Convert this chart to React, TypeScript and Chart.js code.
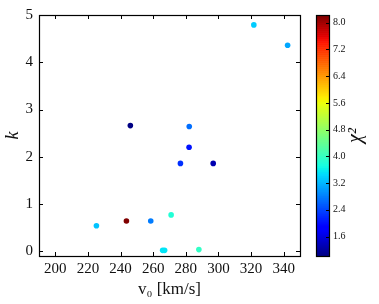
import React, { useEffect, useRef } from 'react';
import { Chart, registerables } from 'chart.js';
Chart.register(...registerables);

const velocity = [246, 282.1, 282, 321.7, 342.4, 276.7, 296.8, 225.2, 243.6, 258.5, 271, 265.8, 267, 288];
const kValues = [2.66, 2.64, 2.2, 4.79, 4.36, 1.86, 1.86, 0.54, 0.64, 0.64, 0.77, 0.02, 0.02, 0.035];
const chi2Values = [1.05, 2.7, 2.05, 3.36, 3.1, 2.25, 1.32, 3.3, 8.23, 2.8, 3.83, 3.54, 3.54, 3.97];
const xTicks = [200, 220, 240, 260, 280, 300, 320, 340];
const yTicks = [0, 1, 2, 3, 4, 5];
const cbTicks = [1.6, 2.4, 3.2, 4.0, 4.8, 5.6, 6.4, 7.2, 8.0];
const cbMin = 1.02;
const cbMax = 8.23;

const SERIF = '"Liberation Serif", "DejaVu Serif", serif';

const R: number[][] = [[0, 0], [0.35, 0], [0.66, 1], [0.89, 1], [1, 0.5]];
const G: number[][] = [[0, 0], [0.125, 0], [0.375, 1], [0.64, 1], [0.91, 0], [1, 0]];
const B: number[][] = [[0, 0.5], [0.11, 1], [0.34, 1], [0.65, 0], [1, 0]];

function seg(p: number[][], t: number) {
  for (let i = 1; i < p.length; i++) {
    if (t <= p[i][0]) {
      const [x0, y0] = p[i - 1];
      const [x1, y1] = p[i];
      return y0 + ((y1 - y0) * (t - x0)) / (x1 - x0);
    }
  }
  return p[p.length - 1][1];
}

function jet(v: number) {
  let t = (v - cbMin) / (cbMax - cbMin);
  t = Math.max(0, Math.min(1, t));
  const r = Math.round(seg(R, t) * 255);
  const g = Math.round(seg(G, t) * 255);
  const b = Math.round(seg(B, t) * 255);
  return `rgb(${r},${g},${b})`;
}

const overlay = {
  id: 'overlay',
  afterDraw(chart: any) {
    const ctx = chart.ctx as CanvasRenderingContext2D;
    const { left, right, top, bottom } = chart.chartArea;
    const xs = chart.scales.x;
    const ys = chart.scales.y;
    ctx.save();
    ctx.strokeStyle = '#000';
    ctx.lineWidth = 1;
    ctx.beginPath();
    xTicks.forEach((v) => {
      const px = Math.round(xs.getPixelForValue(v)) + 0.5;
      ctx.moveTo(px, bottom);
      ctx.lineTo(px, bottom - 4);
      ctx.moveTo(px, top);
      ctx.lineTo(px, top + 4);
    });
    yTicks.forEach((v) => {
      const py = Math.round(ys.getPixelForValue(v)) + 0.5;
      ctx.moveTo(left, py);
      ctx.lineTo(left + 4, py);
      ctx.moveTo(right, py);
      ctx.lineTo(right - 4, py);
    });
    ctx.stroke();
    ctx.lineWidth = 1.2;
    ctx.strokeRect(Math.round(left) + 0.5, Math.round(top) + 0.5, Math.round(right - left), Math.round(bottom - top));

    // colorbar
    const cbL = Math.round(right) + 16;
    const cbW = 13;
    const h = bottom - top;
    const N = 120;
    for (let i = 0; i < N; i++) {
      const v = cbMin + ((i + 0.5) / N) * (cbMax - cbMin);
      const y0 = bottom - (i / N) * h;
      const y1 = bottom - ((i + 1) / N) * h;
      ctx.fillStyle = jet(v);
      ctx.fillRect(cbL, y1, cbW, y0 - y1 + 0.6);
    }
    ctx.lineWidth = 1.2;
    ctx.strokeRect(cbL + 0.5, Math.round(top) + 0.5, cbW, Math.round(h));
    const cbPix = (v: number) => bottom - ((v - cbMin) / (cbMax - cbMin)) * h;
    ctx.lineWidth = 1;
    ctx.beginPath();
    cbTicks.forEach((v) => {
      const py = Math.round(cbPix(v)) + 0.5;
      ctx.moveTo(cbL + cbW, py);
      ctx.lineTo(cbL + cbW - 3, py);
    });
    ctx.stroke();
    ctx.fillStyle = '#111';
    ctx.font = `10px ${SERIF}`;
    ctx.textAlign = 'left';
    ctx.textBaseline = 'middle';
    cbTicks.forEach((v) => {
      ctx.fillText(v.toFixed(1), cbL + cbW + 4, cbPix(v));
    });
    ctx.save();
    ctx.translate(cbL + cbW + 27, (top + bottom) / 2);
    ctx.rotate(-Math.PI / 2);
    ctx.font = `italic 20px ${SERIF}`;
    ctx.textAlign = 'center';
    ctx.textBaseline = 'middle';
    ctx.fillText('χ²', 0, 0);
    ctx.restore();
    ctx.restore();
  },
};

export default function App() {
  const ref = useRef<HTMLCanvasElement>(null);
  useEffect(() => {
    const points = velocity.map((v, i) => ({ x: v, y: kValues[i] }));
    const colors = chi2Values.map((c) => jet(c));
    const chart = new Chart(ref.current as HTMLCanvasElement, {
      type: 'scatter',
      data: {
        datasets: [
          {
            data: points,
            backgroundColor: colors,
            borderWidth: 0,
            pointRadius: 2.8,
            pointHoverRadius: 2.8,
          },
        ],
      },
      options: {
        animation: false,
        responsive: false,
        devicePixelRatio: 1,
        layout: { padding: { left: 0, right: 79, top: 12, bottom: 0 } },
        plugins: { legend: { display: false }, tooltip: { enabled: false } },
        scales: {
          x: {
            type: 'linear',
            min: 190,
            max: 350,
            afterBuildTicks: (s: any) => {
              s.ticks = xTicks.map((v) => ({ value: v }));
            },
            afterFit: (s: any) => {
              s.height = 48;
            },
            grid: { display: false, drawTicks: false },
            border: { display: false },
            ticks: {
              padding: 4,
              color: '#111',
              font: { family: SERIF, size: 15 },
              maxRotation: 0,
              autoSkip: false,
              callback: (v: any) => String(v),
            },
            title: {
              display: true,
              text: 'v₀ [km/s]',
              color: '#111',
              font: { family: SERIF, size: 17 },
              padding: { top: 0, bottom: 4 },
            },
          },
          y: {
            type: 'linear',
            min: -0.1,
            max: 5,
            afterBuildTicks: (s: any) => {
              s.ticks = yTicks.map((v) => ({ value: v }));
            },
            afterFit: (s: any) => {
              s.width = 39;
            },
            grid: { display: false, drawTicks: false },
            border: { display: false },
            ticks: {
              padding: 6,
              color: '#111',
              font: { family: SERIF, size: 15 },
              autoSkip: false,
              callback: (v: any) => String(v),
            },
            title: {
              display: true,
              text: 'k',
              color: '#111',
              font: { family: SERIF, size: 18, style: 'italic' },
              padding: { top: 2, bottom: 0 },
            },
          },
        },
      },
      plugins: [overlay],
    } as any);
    return () => chart.destroy();
  }, []);
  return (
    <div style={{ position: 'absolute', left: 0, top: 0, width: 379, height: 304, background: '#fff' }}>
      <canvas ref={ref} width={379} height={304} style={{ width: 379, height: 304 }} />
    </div>
  );
}
